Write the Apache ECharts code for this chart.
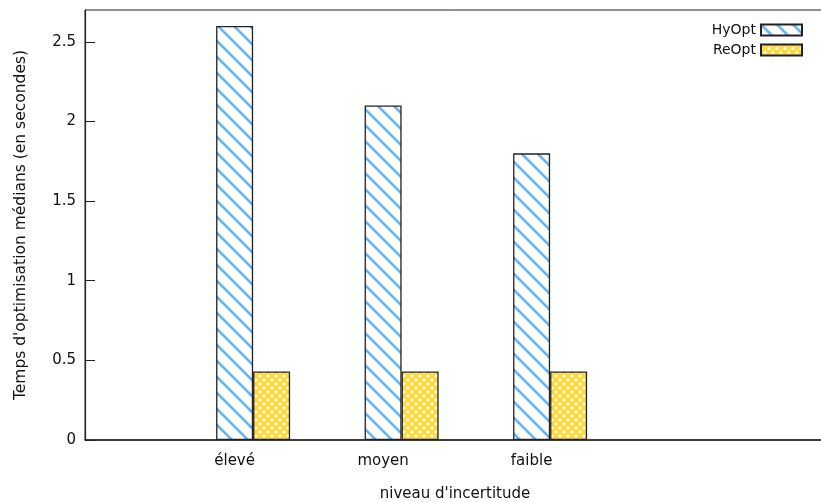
<!DOCTYPE html>
<html><head><meta charset="utf-8">
<script src="https://cdn.jsdelivr.net/npm/echarts@6/dist/echarts.min.js"></script>
<style>html,body{margin:0;padding:0;background:#fff}#c{width:821px;height:502px}</style>
</head><body><div id="c"></div>
<script>
const categories = ['élevé', 'moyen', 'faible'];
const hyOpt = [2.6, 2.1, 1.8];
const reOpt = [0.43, 0.43, 0.43];
const yTicks = [0, 0.5, 1, 1.5, 2, 2.5];

function stripePattern() {
  const s = 16;
  const c = document.createElement('canvas');
  c.width = s; c.height = s;
  const g = c.getContext('2d');
  g.fillStyle = '#ffffff'; g.fillRect(0, 0, s, s);
  g.strokeStyle = '#62b2f7'; g.lineWidth = 2.6;
  for (let k = -s; k <= s; k += s) {
    g.beginPath(); g.moveTo(k - 2, -2); g.lineTo(k + s + 2, s + 2); g.stroke();
  }
  return c;
}
function checkPattern() {
  const c = document.createElement('canvas');
  c.width = 8; c.height = 8;
  const g = c.getContext('2d');
  g.fillStyle = '#ffffff'; g.fillRect(0, 0, 8, 8);
  g.strokeStyle = '#ffd83a'; g.lineWidth = 3;
  g.beginPath(); g.moveTo(-1, -1); g.lineTo(9, 9); g.stroke();
  g.beginPath(); g.moveTo(9, -1); g.lineTo(-1, 9); g.stroke();
  return c;
}

const barW = 37;
const chart = echarts.init(document.getElementById('c'));
const font = 'DejaVu Sans';
const xMin = -1.132, xMax = 3.851;
const unitPx = 740 / (xMax - xMin);
const labelShift = (barW / 2) / unitPx;

chart.setOption({
  animation: false,
  textStyle: { fontFamily: font },
  grid: { left: 85, right: -4, top: 10, bottom: 62, containLabel: false, outerBoundsMode: 'none',
          show: true, borderColor: '#222', borderWidth: 1 },
  legend: {
    orient: 'vertical', right: 13, top: 18, align: 'right', icon: 'rect',
    itemWidth: 41, itemHeight: 11, itemGap: 6,
    textStyle: { fontFamily: font, fontSize: 14, color: '#111' },
    data: ['HyOpt', 'ReOpt']
  },
  xAxis: {
    type: 'value', min: xMin, max: xMax,
    name: "niveau d'incertitude", nameLocation: 'middle', nameGap: 47,
    nameTextStyle: { fontFamily: font, fontSize: 15, color: '#111' },
    axisLine: { show: true, onZero: false, lineStyle: { color: '#222', width: 1.5 } },
    axisTick: { show: false },
    splitLine: { show: false },
    axisLabel: {
      customValues: categories.map((c, i) => i - labelShift),
      formatter: v => categories[Math.round(v + labelShift)] || '',
      fontFamily: font, fontSize: 15, color: '#111', margin: 14
    }
  },
  yAxis: {
    type: 'value', min: 0, max: 2.7,
    name: "Temps d'optimisation médians (en secondes)", nameLocation: 'middle', nameGap: 56,
    nameTextStyle: { fontFamily: font, fontSize: 15.5, color: '#111' },
    axisLine: { show: true, onZero: false, lineStyle: { color: '#222', width: 1.2 } },
    axisTick: { show: true, inside: true, length: 10, lineStyle: { color: '#222' }, customValues: yTicks },
    splitLine: { show: false },
    axisLabel: { customValues: yTicks, formatter: v => String(v), fontFamily: font, fontSize: 15, color: '#111', margin: 9 }
  },
  series: [
    {
      name: 'HyOpt', type: 'bar', barWidth: barW, barGap: '0%',
      data: hyOpt.map((v, i) => [i, v]),
      itemStyle: { color: { image: stripePattern(), repeat: 'repeat' }, borderColor: '#222', borderWidth: 1.3 }
    },
    {
      name: 'ReOpt', type: 'bar', barWidth: barW, barGap: '0%',
      data: reOpt.map((v, i) => [i, v]),
      itemStyle: { color: { image: checkPattern(), repeat: 'repeat' }, borderColor: '#222', borderWidth: 1.3 }
    }
  ]
});
</script>
</body></html>
